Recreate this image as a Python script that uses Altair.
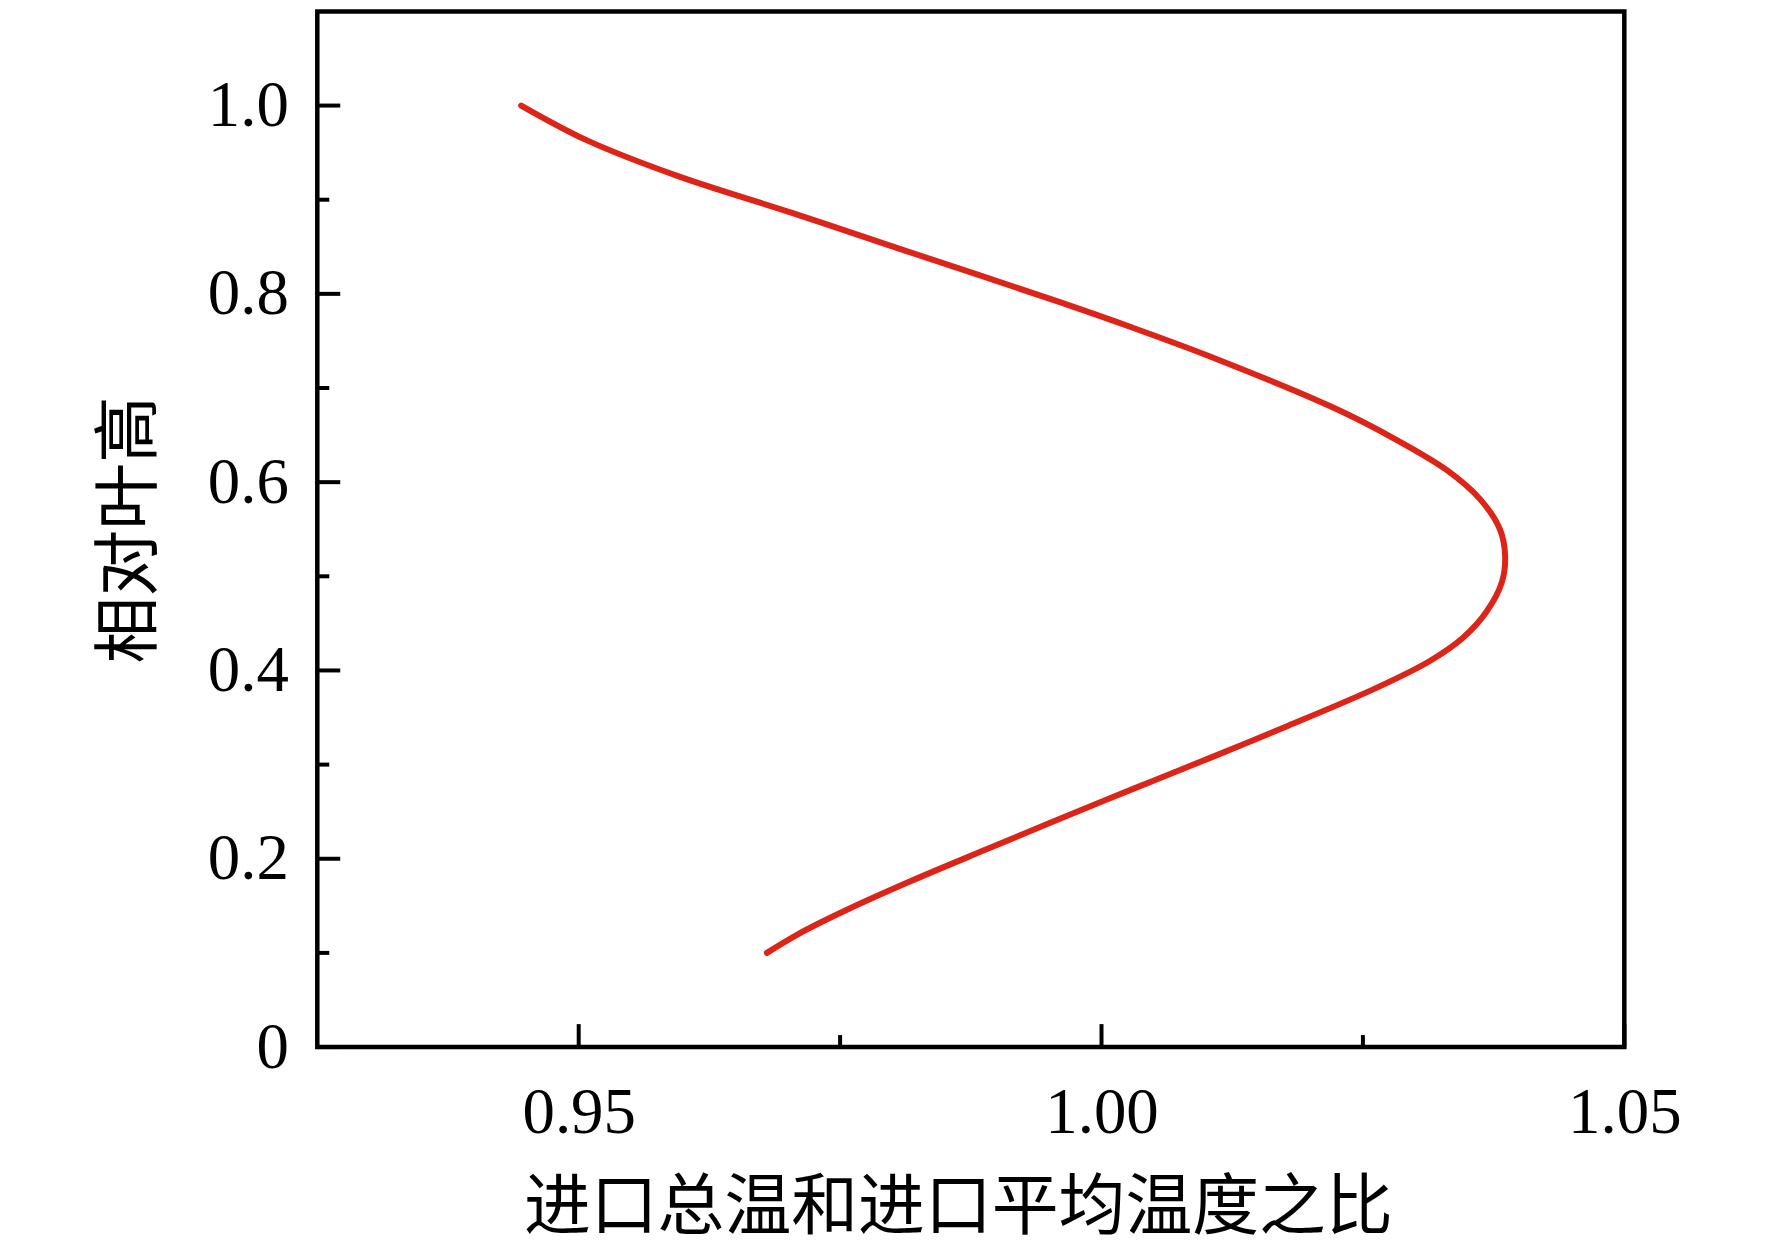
import pandas as pd
import altair as alt

# curve, top end to bottom end
rel_height = [1.000, 0.963, 0.925, 0.886, 0.846, 0.792, 0.764, 0.733, 0.680, 0.645,
              0.613, 0.582, 0.550, 0.522, 0.494, 0.462, 0.435, 0.410, 0.382, 0.341,
              0.309, 0.275, 0.240, 0.210, 0.175, 0.145, 0.120, 0.100]
temp_ratio = [0.9445, 0.9508, 0.9595, 0.9704, 0.9812, 0.9958, 1.0030, 1.0105, 1.0220, 1.0282,
              1.0330, 1.0362, 1.0381, 1.0386, 1.0383, 1.0368, 1.0346, 1.0314, 1.0264, 1.0178,
              1.0108, 1.0032, 0.9955, 0.9890, 0.9815, 0.9755, 0.9710, 0.9680]

x_major = [0.95, 1.00, 1.05]
x_minor = [0.975, 1.025]
y_major = [0, 0.2, 0.4, 0.6, 0.8, 1.0]
y_minor = [0.1, 0.3, 0.5, 0.7, 0.9]

W, H = 1310, 1038
LABEL_FONT = "Liberation Serif"
TITLE_FONT = "Noto Sans CJK SC"

curve = pd.DataFrame({"ratio": temp_ratio, "h": rel_height, "i": range(len(rel_height))})

x_scale = alt.Scale(domain=[0.925, 1.05], nice=False, zero=False)
y_scale = alt.Scale(domain=[0, 1.1], nice=False, zero=False)

line = alt.Chart(curve).mark_line(
    color="#dd2418", strokeWidth=6, strokeCap="round", interpolate="catmull-rom"
).encode(
    x=alt.X("ratio:Q", scale=x_scale, axis=alt.Axis(
        title="进口总温和进口平均温度之比",
        values=x_major, format=".2f", ticks=False, domain=False, grid=False,
        labelFont=LABEL_FONT, labelFontSize=65, labelPadding=35, labelFlush=False,
        labelOverlap=False, labelColor="black",
        titleFont=TITLE_FONT, titleFontSize=67, titleFontWeight="normal", titleColor="black",
        titleY=162, titleBaseline="middle", titleX=W / 2 - 13,
    )),
    y=alt.Y("h:Q", scale=y_scale, axis=alt.Axis(
        title="相对叶高",
        values=y_major, ticks=False, domain=False, grid=False,
        labelExpr="datum.value == 0 ? '0' : format(datum.value, '.1f')",
        labelFont=LABEL_FONT, labelFontSize=65, labelPadding=29, labelFlush=False,
        labelOverlap=False, labelColor="black", labelBaseline="middle",
        titleFont=TITLE_FONT, titleFontSize=67, titleFontWeight="normal", titleColor="black",
        titleAngle=270, titleX=-187, titleY=H / 2, titleBaseline="middle", titleAlign="center",
    )),
    order="i:O",
)


def y_ticks(values, length):
    return alt.Chart(pd.DataFrame({"v": values})).mark_rule(color="black", strokeWidth=4).encode(
        y=alt.Y("v:Q", scale=y_scale, axis=None),
        x=alt.value(0), x2=alt.value(length),
    )


def x_ticks(values, length):
    return alt.Chart(pd.DataFrame({"v": values})).mark_rule(color="black", strokeWidth=4).encode(
        x=alt.X("v:Q", scale=x_scale, axis=None),
        y=alt.value(H), y2=alt.value(H - length),
    )


chart = alt.layer(
    line,
    y_ticks(y_major, 23), y_ticks(y_minor, 12),
    x_ticks(x_major, 23), x_ticks(x_minor, 12),
).resolve_axis(
    x="independent", y="independent"
).properties(
    width=W, height=H,
    autosize=alt.AutoSizeParams(type="none"),
    padding={"left": 310, "top": 2, "right": 140, "bottom": 206},
).configure_view(
    stroke="black", strokeWidth=4.5
)

chart.save("out.html", embed_options={"renderer": "svg", "actions": False})
